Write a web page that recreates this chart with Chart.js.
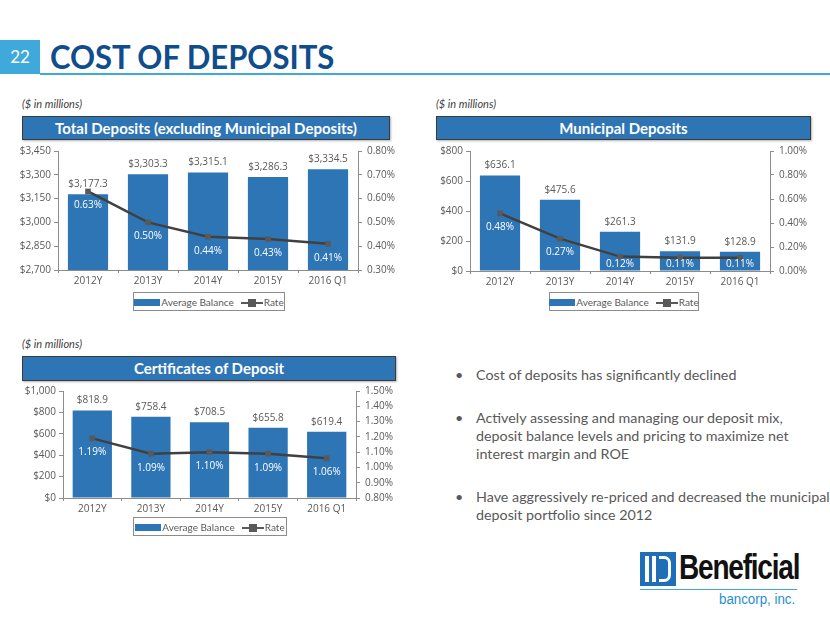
<!DOCTYPE html>
<html>
<head>
<meta charset="utf-8">
<script src="https://cdn.jsdelivr.net/npm/chart.js@4"></script>
<style>
  body { margin: 0; width: 830px; height: 623px; background: #fff; position: relative; overflow: hidden; font-family: "Lato", "Open Sans", sans-serif; }
  .abs { position: absolute; }
  .pagenum { left: 0; top: 40px; width: 40px; height: 34px; background: #3fa9dc; color: #fff; font-size: 17px; line-height: 34px; text-align: center; }
  .title { left: 50px; top: 36px; color: #0f4d8c; font-size: 33px; font-weight: 700; white-space: nowrap; transform: scaleX(0.94); transform-origin: left; }
  .rule { left: 40px; top: 73px; width: 790px; height: 2px; background: #3fa9dc; }
  .note { font-size: 11px; font-style: italic; color: #404040; }
  .hdr { background: #2e75b6; border: 1px solid #3a3a3a; color: #fff; font-weight: 700; font-size: 15px; text-align: center; box-shadow: 1px 1px 2px rgba(0,0,0,0.3); }
  .legend { border: 1px solid #8c8c8c; font-size: 10px; color: #595959; display: flex; align-items: center; justify-content: center; gap: 7px; white-space: nowrap; }
  .legend .box { display: inline-block; width: 26px; height: 7px; background: #2e75b6; vertical-align: middle; margin-right: 1px; }
  .legend .ln { display: inline-block; width: 22px; height: 2px; background: #595959; vertical-align: middle; position: relative; margin-right: 1px; }
  .legend .ln::after { content: ""; position: absolute; left: 7px; top: -3px; width: 8px; height: 8px; background: #595959; }
  .bullets { left: 455px; top: 366px; width: 375px; font-size: 14.3px; color: #595959; line-height: 18px; white-space: nowrap; }
  .bullets div { position: relative; padding-left: 21px; margin-bottom: 25px; }
  .bullets div::before { content: "\2022"; position: absolute; left: 0; }
  canvas { position: absolute; }
</style>
</head>
<body>
<div class="abs pagenum">22</div>
<div class="abs title">COST OF DEPOSITS</div>
<div class="abs rule"></div>

<div class="abs note" style="left:22px;top:97px;">($ in millions)</div>
<div class="abs hdr" style="left:22px;top:116px;width:366px;height:22px;line-height:22px;">Total Deposits (excluding Municipal Deposits)</div>
<div class="abs note" style="left:436px;top:97px;">($ in millions)</div>
<div class="abs hdr" style="left:436px;top:116px;width:373px;height:22px;line-height:22px;">Municipal Deposits</div>
<div class="abs note" style="left:22px;top:337px;">($ in millions)</div>
<div class="abs hdr" style="left:22px;top:356px;width:372px;height:23px;line-height:23px;">Certificates of Deposit</div>

<canvas id="c1" width="400" height="150" style="left:10px;top:140px;"></canvas>
<canvas id="c2" width="400" height="151" style="left:425px;top:140px;"></canvas>
<canvas id="c3" width="400" height="138" style="left:12px;top:380px;"></canvas>

<div class="abs legend" style="left:133px;top:292px;width:150px;height:17px;"><span><span class="box"></span>Average Balance</span><span><span class="ln"></span>Rate</span></div>
<div class="abs legend" style="left:549px;top:292px;width:148px;height:17px;"><span><span class="box"></span>Average Balance</span><span><span class="ln"></span>Rate</span></div>
<div class="abs legend" style="left:133px;top:517px;width:152px;height:17px;"><span><span class="box"></span>Average Balance</span><span><span class="ln"></span>Rate</span></div>

<div class="abs bullets">
  <div>Cost of deposits has significantly declined</div>
  <div>Actively assessing and managing our deposit mix,<br>deposit balance levels and pricing to maximize net<br>interest margin and ROE</div>
  <div>Have aggressively re-priced and decreased the municipal<br>deposit portfolio since 2012</div>
</div>

<div class="abs" style="left:640px;top:552px;width:36px;height:34px;background:#1f6fb8;"></div>
<div class="abs" style="left:645px;top:556px;width:4px;height:26px;background:#fff;"></div>
<div class="abs" style="left:652px;top:556px;width:4px;height:26px;background:#fff;"></div>
<div class="abs" style="left:659px;top:556px;width:12px;height:26px;border:3px solid #fff;border-left:none;border-radius:0 7px 7px 0;box-sizing:border-box;"></div>
<div class="abs" style="left:679px;top:547px;font-family:'Liberation Sans',sans-serif;font-weight:700;font-size:35px;letter-spacing:-1.5px;color:#111;transform:scaleX(0.8);transform-origin:left;">Beneficial</div>
<div class="abs" style="left:640px;top:589px;width:157px;height:1px;background:#3fa9dc;"></div>
<div class="abs" style="left:719px;top:591px;font-family:'Liberation Sans',sans-serif;font-size:14px;color:#1f8fd0;transform:scaleX(0.95);transform-origin:left;">bancorp, inc.</div>

<script>
const categories = ['2012Y', '2013Y', '2014Y', '2015Y', '2016 Q1'];

const totalBalance = [3177.3, 3303.3, 3315.1, 3286.3, 3334.5];
const totalRate = [0.63, 0.50, 0.44, 0.43, 0.41];

const muniBalance = [636.1, 475.6, 261.3, 131.9, 128.9];
const muniRate = [0.48, 0.27, 0.12, 0.11, 0.11];

const cdBalance = [818.9, 758.4, 708.5, 655.8, 619.4];
const cdRate = [1.19, 1.09, 1.10, 1.09, 1.06];

const barBlue = '#2e75b6';
const grey = '#595959';
const axisGrey = '#8c8c8c';

// draws bar values above bars and rates (white) under the line points
const valueLabels = {
  id: 'valueLabels',
  afterDatasetsDraw(chart) {
    const ctx = chart.ctx;
    const bottom = chart.chartArea.bottom;
    ctx.save();
    ctx.font = '10px "Open Sans", sans-serif';
    ctx.textAlign = 'center';
    ctx.textBaseline = 'middle';
    chart.getDatasetMeta(0).data.forEach((bar, i) => {
      const v = chart.data.datasets[0].data[i];
      ctx.fillStyle = grey;
      ctx.fillText('$' + v.toLocaleString('en-US', {minimumFractionDigits: 1, maximumFractionDigits: 1}), bar.x, bar.y - 10);
    });
    chart.getDatasetMeta(1).data.forEach((pt, i) => {
      const v = chart.data.datasets[1].data[i];
      ctx.fillStyle = '#fff';
      const y = Math.min(pt.y + 14, bottom - 7);
      ctx.fillText(v.toFixed(2) + '%', pt.x, y);
    });
    ctx.restore();
  }
};

function makeChart(id, bal, rate, left, right) {
  return new Chart(document.getElementById(id), {
    type: 'bar',
    data: {
      labels: categories,
      datasets: [{
        label: 'Average Balance',
        data: bal,
        backgroundColor: barBlue,
        categoryPercentage: 1,
        barPercentage: 0.67,
        yAxisID: 'y',
        order: 2
      }, {
        type: 'line',
        label: 'Rate',
        data: rate,
        borderColor: '#404040',
        borderWidth: 2.5,
        backgroundColor: grey,
        pointStyle: 'rect',
        pointRadius: 4,
        pointBorderWidth: 0,
        yAxisID: 'y1',
        order: 1
      }]
    },
    options: {
      animation: false,
      responsive: false,
      layout: { padding: { top: 8 } },
      plugins: { legend: { display: false }, tooltip: { enabled: false } },
      scales: {
        x: {
          grid: { display: true, drawOnChartArea: false, tickLength: 3, color: axisGrey },
          border: { color: axisGrey },
          ticks: { color: grey, font: { size: 10, family: 'Open Sans' }, padding: 2 },
          afterFit: (s) => { s.height = 20; }
        },
        y: {
          position: 'left',
          min: left.min, max: left.max,
          grid: { display: true, drawOnChartArea: false, tickLength: 4, color: axisGrey },
          border: { color: axisGrey },
          ticks: {
            stepSize: left.step, color: grey, font: { size: 10, family: 'Open Sans' }, padding: 3,
            callback: (v) => '$' + v.toLocaleString('en-US')
          },
          afterFit: (s) => { s.width = left.w; }
        },
        y1: {
          position: 'right',
          min: right.min, max: right.max,
          grid: { display: true, drawOnChartArea: false, tickLength: 4, color: axisGrey },
          border: { color: axisGrey },
          ticks: {
            stepSize: right.step, color: grey, font: { size: 10, family: 'Open Sans' }, padding: 5,
            callback: (v) => v.toFixed(2) + '%'
          },
          afterFit: (s) => { s.width = right.w; }
        }
      }
    },
    plugins: [valueLabels]
  });
}

makeChart('c1', totalBalance, totalRate,
  { min: 2700, max: 3450, step: 150, w: 48 },
  { min: 0.30, max: 0.80, step: 0.10, w: 52 });
makeChart('c2', muniBalance, muniRate,
  { min: 0, max: 800, step: 200, w: 45 },
  { min: 0, max: 1.0, step: 0.20, w: 55 });
makeChart('c3', cdBalance, cdRate,
  { min: 0, max: 1000, step: 200, w: 51 },
  { min: 0.80, max: 1.50, step: 0.10, w: 56 });
</script>
</body>
</html>
